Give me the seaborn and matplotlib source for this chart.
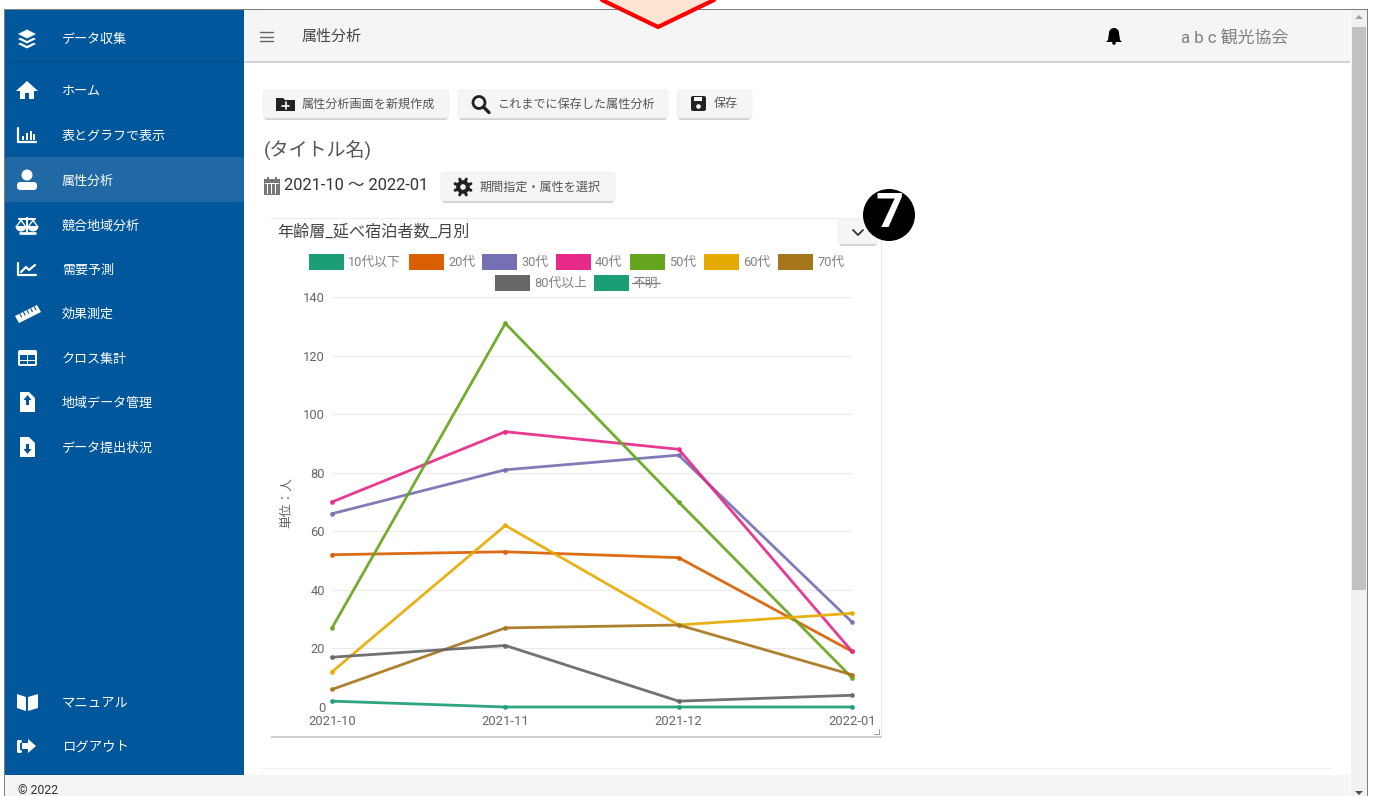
import numpy as np
import pandas as pd
import seaborn as sns
import matplotlib.pyplot as plt
from matplotlib.patches import Rectangle, FancyBboxPatch, Polygon, Circle, Wedge

months = ['2021-10', '2021-11', '2021-12', '2022-01']
series_names = ['10代以下', '20代', '30代', '40代', '50代', '60代', '70代', '80代以上']
hidden_name = '不明'
age_u10 = [2, 0, 0, 0]
age_20 = [52, 53, 51, 19]
age_30 = [66, 81, 86, 29]
age_40 = [70, 94, 88, 19]
age_50 = [27, 131, 70, 10]
age_60 = [12, 62, 28, 32]
age_70 = [6, 27, 28, 11]
age_80 = [17, 21, 2, 4]
y_ticks = [0, 20, 40, 60, 80, 100, 120, 140]

nav_top = ['ホーム', '表とグラフで表示', '属性分析', '競合地域分析', '需要予測', '効果測定',
           'クロス集計', '地域データ管理', 'データ提出状況']
nav_top_y = [90, 135, 180, 225, 269, 313, 358, 402, 447]

BLUE = '#01579b'
GREY_TXT = '#666666'

sns.set_theme(style='white')
plt.rcParams['font.family'] = ['Roboto', 'Noto Sans CJK JP', 'DejaVu Sans']

fig = plt.figure(figsize=(13.73, 7.96), dpi=100, facecolor='white')

# page furniture is drawn in pixel coordinates
ui = fig.add_axes([0, 0, 1, 1], zorder=0)
ui.set_xlim(0, 1373)
ui.set_ylim(796, 0)
ui.axis('off')


def box(x0, y0, x1, y1, color, z=1):
    ui.add_patch(Rectangle((x0, y0), x1 - x0, y1 - y0, fc=color, ec='none', zorder=z))


def button(x0, y0, x1, y1):
    ui.add_patch(FancyBboxPatch((x0 + 1, y0 + 3), x1 - x0 - 2, y1 - y0 - 3, boxstyle='round,pad=0,rounding_size=3',
                                fc='#d0d0d0', ec='none', zorder=2))
    ui.add_patch(FancyBboxPatch((x0, y0), x1 - x0, y1 - y0 - 2, boxstyle='round,pad=0,rounding_size=3',
                                fc='#f5f5f5', ec='#ededed', lw=0.5, zorder=3))


def label(x, y, s, size, color='#333333', ha='left', **kw):
    ui.text(x, y + 1.5, s, fontsize=size, color=color, ha=ha, va='center', zorder=6, **kw)


def poly(points, color='white', z=5):
    ui.add_patch(Polygon(points, closed=True, fc=color, ec='none', zorder=z))


def line(xs, ys, color='white', lw=1.5, z=5):
    ui.plot(xs, ys, color=color, lw=lw, zorder=z, solid_capstyle='round')


def file_icon(y, up):
    poly([(20, y - 10), (29, y - 10), (35, y - 4), (35, y + 10), (20, y + 10)])
    s = -1 if up else 1
    poly([(27.5, y + 7 * s), (23.5, y + 2 * s), (26, y + 2 * s), (26, y - 3 * s), (29, y - 3 * s), (29, y + 2 * s),
          (31.5, y + 2 * s)], BLUE, 6)


# window frame, sidebar, header, footer
box(3.5, 8.5, 1368, 796, '#7f7f7f', 0)
box(5, 10, 1367, 796, 'white', 1)
box(5, 10, 244, 775, BLUE, 1)
box(5, 157, 244, 202, '#2069a5', 2)
box(5, 61, 244, 62, '#0a4f8c', 2)
box(244, 60, 1350, 62.5, '#d2d2d2', 1)
box(244, 10, 1350, 61, '#f5f5f5', 2)
box(5, 775, 1350, 796, '#f5f5f5', 2)
box(1351, 10, 1367, 796, '#f1f1f1', 2)
box(1352, 27, 1366, 590, '#c1c1c1', 3)
poly([(1355, 19), (1359, 15), (1363, 19)], '#a3a3a3')
poly([(1355, 791), (1359, 795), (1363, 791)], '#505050')

# callout pointer above the window
poly([(600, 0), (658, 28), (716, 0)], '#fde4d3', 7)
ui.plot([602, 658, 714], [0, 27, 0], color='#ff0000', lw=3, zorder=8)

# sidebar labels
label(62, 38, 'データ収集', 9.4, 'white')
for name, y in zip(nav_top, nav_top_y):
    label(62, y, name, 9.4, 'white')
label(62, 701, 'マニュアル', 9.6, 'white')
label(62, 746, 'ログアウト', 9.6, 'white')
label(18, 789, '© 2022', 8.8, '#333333')

# sidebar icons
layer_z = 5
for dy, col in zip([6, 3.5, 1, -1.5, -4], ['white', BLUE, 'white', BLUE, 'white']):
    poly([(18, 38 + dy), (27, 33.5 + dy), (36, 38 + dy), (27, 42.5 + dy)], col, layer_z)
    layer_z += 0.1
poly([(16, 91), (27, 81), (38, 91), (34, 91), (34, 99), (29, 99), (29, 93), (25, 93), (25, 99), (20, 99), (20, 91)])
line([18, 18, 36], [128, 142, 142], lw=1.6)
for bx, top in zip([22, 26, 30, 33], [136, 133, 131, 134]):
    box(bx, top, bx + 2, 140, 'white', 5)
ui.add_patch(Circle((27, 175), 5.5, fc='white', ec='none', zorder=5))
ui.add_patch(FancyBboxPatch((17, 182), 20, 8, boxstyle='round,pad=0,rounding_size=3.5', fc='white', ec='none', zorder=5))
box(26, 217, 28, 232, 'white', 5)
line([19, 35], [219, 219])
line([20, 35], [233, 233], lw=2)
for cx in [21, 33]:
    ui.add_patch(Wedge((cx, 226), 5.5, 0, 180, fc='white', ec='none', zorder=5))
    poly([(cx - 5, 226), (cx, 219), (cx + 5, 226), (cx + 3.5, 226), (cx, 221.5), (cx - 3.5, 226)])
line([18, 18, 36], [263, 275, 275], lw=1.6)
line([21, 26, 29, 35], [272, 267, 270, 265], lw=1.6)
poly([(15, 316), (37, 305), (41, 312), (19, 323)])
for i in range(5):
    line([20 + i * 3.6, 21.5 + i * 3.6], [314 - i * 1.8, 317 - i * 1.8], BLUE, 0.8, 6)
ui.add_patch(FancyBboxPatch((18, 350), 19, 16, boxstyle='round,pad=0,rounding_size=2', fc='white', ec='none', zorder=5))
box(20, 355, 26.5, 359.5, BLUE, 6)
box(28, 355, 35, 359.5, BLUE, 6)
box(20, 361, 26.5, 364, BLUE, 6)
box(28, 361, 35, 364, BLUE, 6)
file_icon(402, True)
file_icon(447, False)
poly([(17, 694), (26, 697), (26, 711), (17, 708)])
poly([(28, 697), (38, 694), (38, 708), (28, 711)])
line([20, 18, 18, 20], [741, 741, 751, 751], lw=2.2)
poly([(22, 743), (28, 743), (28, 739), (36, 746), (28, 753), (28, 749), (22, 749)])

# header
label(301, 35.5, '属性分析', 10.8, '#444444')
for y in [32, 36.5, 41]:
    line([260, 273], [y, y], '#666666', 1)
ui.add_patch(Wedge((1114, 33), 5, 180, 360, fc='black', ec='none', zorder=5))
poly([(1109, 33), (1119, 33), (1120, 40), (1122, 42), (1106, 42), (1108, 40)], 'black')
ui.add_patch(Circle((1114, 43), 1.8, fc='black', ec='none', zorder=5))
label(1181, 37.5, 'a b c 観光協会', 12.2, '#808080')

# toolbar
button(263, 90, 449, 120)
button(458, 90, 668, 120)
button(677, 90, 752, 120)
button(441, 172, 615, 203)
poly([(276, 98), (283, 98), (285, 100), (295, 100), (295, 111), (276, 111)], '#222222')
line([282, 289], [105.5, 105.5], 'white', 1.2, 6)
line([285.5, 285.5], [102, 109], 'white', 1.2, 6)
ui.add_patch(Circle((479, 102.5), 6, fc='none', ec='#222222', lw=2, zorder=5))
line([483.5, 489], [107, 112.5], '#222222', 2.4)
ui.add_patch(FancyBboxPatch((691, 96), 15, 15, boxstyle='round,pad=0,rounding_size=2', fc='#222222', ec='none', zorder=5))
box(694, 97, 702, 101, 'white', 6)
ui.add_patch(Circle((698.5, 106.5), 2.3, fc='white', ec='none', zorder=6))
label(302, 102.5, '属性分析画面を新規作成', 8.7, '#555555')
label(498, 102.5, 'これまでに保存した属性分析', 8.7, '#555555')
label(714, 102.5, '保存', 8.7, '#555555')
label(264, 149, '(タイトル名)', 13.7, '#555555')
box(264, 179, 280, 195, '#777777', 5)
for gx in [268, 272, 276]:
    box(gx - 1, 184, gx, 194, 'white', 6)
box(265, 183, 279, 184, 'white', 6)
box(267, 177, 269, 180, '#777777', 5)
box(275, 177, 277, 180, '#777777', 5)
label(284, 184, '2021-10 ～ 2022-01', 11.9, '#333333')
ui.add_patch(Circle((463, 187), 6.8, fc='#222222', ec='none', zorder=5))
for a in np.arange(0, 360, 45):
    line([463, 463 + 8.5 * np.cos(np.radians(a + 22.5))], [187, 187 + 8.5 * np.sin(np.radians(a + 22.5))], '#222222', 2.2)
ui.add_patch(Circle((463, 187), 2.8, fc='#f5f5f5', ec='none', zorder=6))
label(480, 185.5, '期間指定・属性を選択', 8.7, '#555555')

# chart card
box(271, 222, 881.5, 738, '#cfcfcf', 1)
box(270.5, 218, 882, 736, '#ececec', 1.5)
box(271, 218.5, 881, 736, 'white', 2)
label(277, 230.5, '年齢層_延べ宿泊者数_月別', 11.6, '#444444')
button(838, 220, 878, 246)
line([853, 858, 863], [230, 235, 230], '#333333', 1.3)
line([874, 879, 879], [734, 734, 729], '#999999', 0.7)
box(262, 769, 1332, 775, 'white', 3)
box(262, 768, 1332, 769, '#efefef', 3)

# numbered badge
ui.add_patch(Circle((889, 215), 26, fc='black', ec='none', zorder=9))
ui.text(889, 214, '7', fontsize=35, color='white', ha='center', va='center', fontweight='bold', zorder=10)

# chart itself
values = [age_u10, age_20, age_30, age_40, age_50, age_60, age_70, age_80]
df = pd.DataFrame(dict(zip(series_names, values)), index=months)
long_df = df.reset_index(names='month').melt(id_vars='month', var_name='age', value_name='people')
colors = sns.color_palette('Dark2', 8)

ax = fig.add_axes([332 / 1373, 1 - 707 / 796, 520 / 1373, 410 / 796], zorder=5)
ax.patch.set_alpha(0)
sns.lineplot(data=long_df, x='month', y='people', hue='age', hue_order=series_names, palette=colors,
             linewidth=2.0, alpha=0.92, marker='o', markersize=3.4, markeredgewidth=0, sort=False,
             legend=False, ax=ax, clip_on=False, errorbar=None)
ax.set_xlim(0, 3)
ax.set_ylim(0, 140)
ax.set_yticks(y_ticks)
ax.set_xlabel('')
ax.set_ylabel('単位：人', fontsize=9.2, color=GREY_TXT)
ax.yaxis.set_label_coords(-0.075, 0.5)
ax.grid(axis='y', color='#ebebeb', lw=0.8)
ax.grid(axis='x', visible=False)
ax.set_axisbelow(True)
ax.tick_params(axis='y', length=4, width=0.8, color='#ebebeb', labelsize=9.3, labelcolor=GREY_TXT, pad=1)
ax.tick_params(axis='x', length=0, labelsize=9.4, labelcolor=GREY_TXT, pad=6)
sns.despine(ax=ax, left=True, bottom=True)

# legend, two centred rows
legend_x = [309, 409, 482, 556, 630, 704, 778, 495]
legend_y = [262] * 7 + [283]
for name, col, lx, ly in zip(series_names, colors, legend_x, legend_y):
    box(lx, ly - 8, lx + 35, ly + 8, col, 4)
    label(lx + 39, ly - 1, name, 9.2, '#808080')
box(594, 275, 629, 291, colors[0], 4)
label(632, 282, hidden_name, 9.2, '#808080')
line([632, 660], [283, 283], '#808080', 0.9, 7)

fig.savefig('out.png', dpi=100)
plt.close(fig)
